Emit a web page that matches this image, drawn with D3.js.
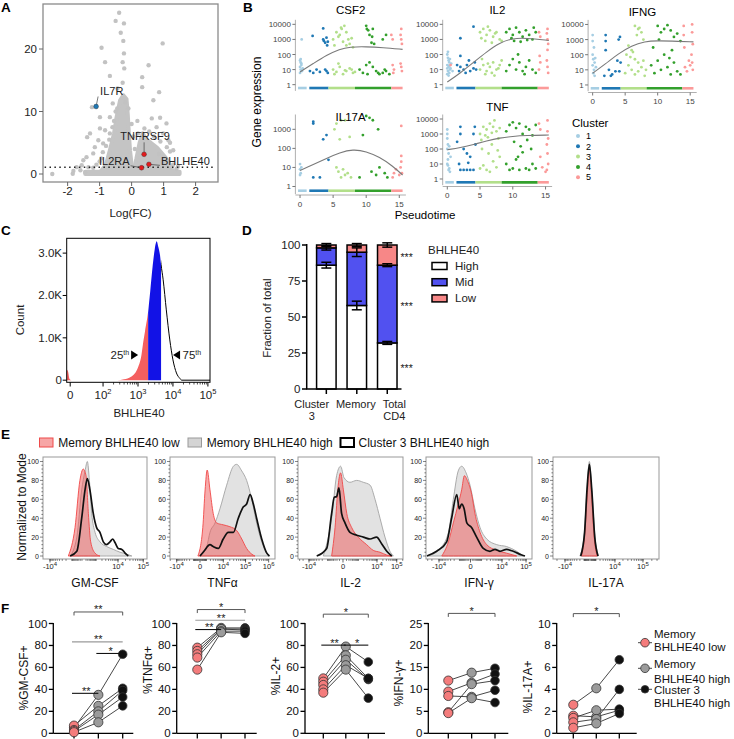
<!DOCTYPE html>
<html><head><meta charset="utf-8">
<script src="https://cdn.jsdelivr.net/npm/d3@7"></script>
<style>
body{margin:0;background:#fff}
text{font-family:"Liberation Sans",Arial,Helvetica,sans-serif}
</style></head>
<body><svg id="fig" width="734" height="739" xmlns="http://www.w3.org/2000/svg"></svg>
<script>
// ======================= DATA =======================
// ---- A: volcano (logFC, -log10 p) ----
const volcanoGray = [[-0.39,25.8],[-0.5,24.5],[-0.24,24.1],[-0.34,22.6],[-0.26,21.3],[0.97,20.9],[-0.94,20.2],[-0.24,19.3],[-0.83,17.9],[-0.28,17.9],[0.53,17.4],[-0.23,16.9],[-0.68,15.7],[0.33,15.5],[-0.28,14.6],[0.33,13.9],[0.86,13.1],[-0.44,13.7],[0.68,11.8],[-1.24,10.7],[-0.59,11.3],[-0.99,9.1],[-0.68,9.1],[0.89,9.0],[0.18,8.5],[0.63,8.9],[1.09,8.1],[-1.30,6.5],[-1.39,5.9],[-0.99,7.3],[-0.83,7.0],[-0.68,6.5],[-1.04,5.4],[-1.15,4.3],[-0.89,4.9],[-1.56,1.4],[-1.82,0.5],[-1.84,0.05],[-2.48,0.0],[1.15,5.4],[1.2,5.0],[0.99,6.5],[0.78,7.5],[1.3,3.8],[-1.41,2.7],[-1.2,3.3],[-1.51,2.2],[-1.35,1.1],[-1.72,1.1],[-0.9,3.5],[-0.95,2.5],[-0.8,4.5],[-0.7,5.5],[-0.6,7.5],[-0.55,8.5],[-0.5,10],[-0.45,10.5],[-0.2,11.5],[-0.1,10.5],[0.1,4],[0.05,6],[0.0,8],[0.2,6.5],[0.4,7.3],[1.1,4.3],[1.2,3.6],[0.9,5.2],[0.7,6],[0.55,6.8],[-1.1,1.5],[-1.2,1.0],[-1.0,2.0],[1.3,1.5],[1.4,0.8],[1.45,1.2],[-1.6,0.6],[-1.45,0.3],[1.05,2.6],[0.85,3.2]];
const volcanoCoreLeft = [[-1.0,0.2],[-0.8,1.5],[-0.68,3.8],[-0.55,6.5],[-0.47,9.1],[-0.36,11.8],[-0.26,12.6],[-0.16,12.0],[-0.12,9.5],[-0.08,6],[-0.05,3.8],[0.0,1.5],[0.1,0.3]];
const volcanoCoreRight = [[0.05,0.3],[0.15,2.5],[0.25,5],[0.35,6.5],[0.45,5.5],[0.6,5.0],[0.8,4.2],[1.0,3.0],[1.15,2.0],[1.25,0.8],[1.35,0.2]];
const volcanoBand = [[-1.45,0],[-1.45,0.35],[1.5,0.35],[1.5,0]];
const volcanoLabeled = [
  {gene:'IL7R', fc:-1.11, p:10.8, group:'down'},
  {gene:'TNFRSF9', fc:0.39, p:3.15, group:'up'},
  {gene:'IL2RA', fc:0.31, p:1.0, group:'up'},
  {gene:'BHLHE40', fc:0.54, p:1.55, group:'up'}
];
const pThreshold = 1.1;
const volcanoXTicks = [-2,-1,0,1,2];
const volcanoYTicks = [0,10,20];

// ---- B: pseudotime expression [pseudotime, expression, cluster] ----
const clusterNames = ['1','2','3','4','5'];
const zeroLevel = 0.6;
const clusterZeroRanges = [[-0.3,1.0],[1.4,4.3],[4.3,8.3],[8.3,13.8],[13.8,15.5]];
const csf2Pts = [[0,40,1],[0.1,30,1],[0.2,20,1],[0,15,1],[0.1,10,1],[0.3,8,1],[0,6,1],[0.2,25,1],[0.1,50,1],[0.25,1000,1],[0.4,12,1],
[1.9,1700,2],[3.5,5400,2],[3.5,1000,2],[4,1300,2],[3.8,600,2],[4.2,700,2],[4.1,400,2],[3.6,800,2],[1.5,8,2],[2,6,2],[3,7,2],[4,8,2],[2.5,10,2],[3.8,10,2],[4.2,6,2],
[5.5,3000,3],[6,2000,3],[6.3,5000,3],[6.7,8000,3],[7,3000,3],[7.3,1000,3],[5.8,1500,3],[6.5,700,3],[7.5,500,3],[5.2,400,3],[7.8,1200,3],[6.2,6000,3],[7,400,3],[8,300,3],[5,1000,3],
[5,10,3],[5.5,7,3],[6,15,3],[6.5,5,3],[7,8,3],[7.5,12,3],[8,6,3],[5.8,25,3],[6.8,9,3],[7.8,10,3],[5.2,5,3],[8.3,7,3],
[10,8000,4],[10.1,5000,4],[10.3,4000,4],[11,5000,4],[10.5,2000,4],[10.8,600,4],[11.2,500,4],[10.9,1500,4],[12.5,1000,4],[13,2000,4],
[9,10,4],[9.5,6,4],[10,20,4],[10.5,30,4],[11,15,4],[11.5,8,4],[12,5,4],[12.5,6,4],[13,8,4],[13.5,5,4],[10.2,5,4],[11.8,6,4],[12.8,10,4],
[13.8,2000,5],[14,1000,5],[15.3,5000,5],[15.3,1000,5],[15.4,500,5],[15.2,2000,5],[14,20,5],[14.2,10,5],[15.3,15,5],[15.4,8,5],[15.2,25,5],[14.1,6,5]];
const csf2Fit = [[0,7],[2,25],[4,90],[6,230],[7.5,320],[10,330],[12.5,290],[15.5,220]];
const il2Pts = [[0,100,1],[0.1,60,1],[0.2,40,1],[0.3,30,1],[0,20,1],[0.2,15,1],[0.4,10,1],[0.1,8,1],[0.3,6,1],[0,5,1],[0.2,4,1],[0.5,12,1],[0.6,25,1],[0.8,8,1],[0.1,150,1],[0.4,50,1],[0,12,1],[0.3,18,1],[0.5,20,5],
[2.0,1200,2],[4.0,7000,2],[2.0,80,2],[1.5,20,2],[2,15,2],[2.5,10,2],[3,20,2],[3.5,8,2],[4,12,2],[4.2,30,2],[2.8,6,2],[1.8,8,2],[3.3,40,2],[4.4,10,2],
[5,3000,3],[5.5,5000,3],[6,2000,3],[6.5,4000,3],[7,1500,3],[7.5,3000,3],[8,1000,3],[5.2,1200,3],[6.2,7000,3],[6.8,600,3],[7.3,2500,3],[8.3,800,3],[5.8,800,3],
[5,10,3],[5.5,20,3],[6,8,3],[6.5,15,3],[7,30,3],[7.5,10,3],[8,20,3],[5.3,50,3],[6.8,6,3],[7.8,12,3],[8.3,40,3],[6.2,25,3],[5.8,5,3],[7.2,4,3],
[9,3000,4],[9.5,5000,4],[10,2000,4],[10.5,6000,4],[11,3000,4],[11.5,1500,4],[12,4000,4],[12.5,2000,4],[13,1000,4],[13.5,3000,4],[10.2,800,4],[11.2,700,4],[12.2,900,4],[9.8,1200,4],[13.2,6000,4],
[9,8,4],[9.5,20,4],[10,50,4],[10.5,10,4],[11,30,4],[11.5,8,4],[12,15,4],[12.5,40,4],[13,10,4],[13.5,6,4],[10.8,100,4],[11.8,5,4],
[14,3000,5],[14.2,1500,5],[15.3,5000,5],[15.3,1000,5],[15.4,500,5],[15.2,2500,5],[14,10,5],[14.2,30,5],[15.3,15,5],[15.4,6,5],[15.2,40,5],[14.1,80,5],[15.3,200,5]];
const il2Fit = [[0,1.5],[2,6],[4,30],[6,150],[8,600],[10,1200],[12,1250],[15.5,850]];
const ifngPts = [[0,2000,1],[0,800,1],[0.2,300,1],[0,100,1],[0.1,50,1],[0.3,30,1],[0,20,1],[0.2,10,1],[0.1,6,1],[0.3,4,1],[0.5,15,1],[0.4,60,1],
[2,2000,2],[2,800,2],[2,200,2],[2.5,10,2],[3,5,2],[3.5,8,2],[4,1000,2],[4.2,1500,2],[4.3,30,2],[4.1,8,2],[1.8,4,2],[2.8,4,2],[3.8,40,2],
[6.5,8000,3],[7,5000,3],[7.5,3000,3],[7.2,6000,3],[6.8,2000,3],[7.8,1000,3],[5.5,400,3],[6,200,3],[5.2,100,3],[6.5,50,3],[7,30,3],[5.5,20,3],[6,10,3],[6.5,5,3],[7,8,3],[7.5,15,3],[8,4,3],[5,6,3],[5.8,70,3],[6.2,150,3],[7.8,40,3],[8.2,10,3],
[10,8000,4],[10.5,3000,4],[11,5000,4],[11.5,9000,4],[12,4000,4],[12.5,1500,4],[13,2500,4],[13.5,800,4],[10.2,1000,4],[9,20,4],[9.5,6,4],[10,40,4],[10.5,10,4],[11,100,4],[11.5,15,4],[12,5,4],[12.5,30,4],[13,8,4],[13.5,5,4],[9.3,300,4],[12.2,200,4],[11.8,60,4],
[14,8000,5],[14,2000,5],[14.1,300,5],[15.3,10000,5],[15.3,3000,5],[15.4,500,5],[15.2,100,5],[15.3,30,5],[15.4,10,5],[14.2,15,5],[14.5,8,5],[15,20,5],[14.8,40,5]];
const ifngFit = [[0,6],[2,25],[4,120],[6,400],[8,750],[10,850],[12,800],[15.5,700]];
const il17aPts = [[0,15,1],[0,8,1],[0.1,5,1],[0.2,10,1],[0,4,1],
[2,2500,2],[2,2000,2],[3.5,300,2],[4,500,2],[4.3,25,2],[3,3,2],[2,3,2],
[5.5,2000,3],[6.2,3000,3],[6.8,3000,3],[5.2,1000,3],[6,300,3],[7.5,400,3],[5.8,6,3],[6.2,3,3],[6.8,4,3],[7.2,5,3],[7.7,3,3],[5.5,10,3],[6.5,8,3],
[10,5000,4],[10.5,4000,4],[11,3000,4],[11.8,1000,4],[9.5,500,4],[9,3,4],[12,10,4],[12.8,5,4],[13.2,3,4],[10.8,6,4],[11.5,4,4],
[15.3,1500,5],[15.3,40,5],[15.3,20,5],[15.2,10,5],[15.4,5,5],[14.5,8,5],[14.2,5,5],[14,3,5],[15,4,5]];
const il17aFit = [[0,7],[2,14],[4,30],[6,60],[8,90],[10,70],[12,35],[14,12],[15.5,4]];
const tnfPts = [[0,1000,1],[0,500,1],[0.1,200,1],[0,100,1],[0.2,50,1],[0.1,20,1],[0,10,1],[0.3,5,1],[0.2,4,1],[0.4,3,1],[0.5,30,1],[0,2000,1],[0.3,150,1],[0.1,8,1],
[2,3000,2],[2,1000,2],[1.5,300,2],[2.5,100,2],[3,50,2],[3.5,30,2],[4,1000,2],[4.2,3000,2],[4.3,200,2],[2,4,2],[2.5,4,2],[3,4,2],[3.5,4,2],[4,4,2],[1.8,10,2],[3.2,12,2],
[5,1000,3],[5.5,3000,3],[6,2000,3],[6.5,5000,3],[7,3000,3],[7.5,1500,3],[8,2500,3],[5.2,400,3],[5.8,800,3],[6.2,600,3],[6.8,1200,3],[7.2,8000,3],[7.8,500,3],[5,5,3],[5.5,8,3],[6,4,3],[6.5,3,3],[7,15,3],[7.5,6,3],[8,30,3],[6.3,50,3],[5.3,100,3],[6.8,200,3],[7.7,80,3],
[9,1500,4],[9.5,4000,4],[10,6000,4],[10.5,2500,4],[11,5000,4],[11.5,1000,4],[12,3000,4],[12.5,2000,4],[13,800,4],[13.5,4000,4],[10.2,300,4],[11.2,150,4],[12.2,400,4],[9,10,4],[9.5,4,4],[10,5,4],[10.5,20,4],[11,4,4],[11.5,60,4],[12,5,4],[12.5,4,4],[13,10,4],[13.5,5,4],[10.8,30,4],[12.8,100,4],
[14,5000,5],[14.2,2000,5],[15.3,8000,5],[15.3,1500,5],[15.4,500,5],[15.2,200,5],[15.3,50,5],[15.4,10,5],[15.2,4,5],[14.2,30,5],[14.5,6,5],[15,3,5]];
const tnfFit = [[0,90],[2,120],[4,200],[6,350],[8,550],[10,700],[12,800],[15.5,850]];

// ---- C: BHLHE40 histogram [log10 intensity, count (K)] ----
const bhlhe40Hist = [[0.96,0.25],[1.0,0.2],[1.04,0.03],[1.1,0],[2.4,0],[2.6,0.02],[2.8,0.08],[2.9,0.15],[3.0,0.3],[3.1,0.6],[3.15,0.9],[3.2,1.15],[3.29,1.62],[3.35,2.1],[3.42,2.7],[3.48,3.1],[3.535,3.28],[3.58,3.15],[3.63,2.95],[3.66,2.73],[3.72,2.37],[3.81,1.66],[3.91,0.95],[4.0,0.48],[4.1,0.17],[4.2,0.04],[4.25,0],[5.06,0]];
const pct25 = 3.29, pct75 = 3.66;
const cXTicks = [0,100,1000,10000,100000];
const cYTicks = [0,1,2,3];
const cYLabels = ['0','1.0K','2.0K','3.0K'];

// ---- D: fraction of total ----
const dGroups = ['Cluster 3','Memory','Total CD4'];
const dGroupLines = [['Cluster','3'],['Memory'],['Total','CD4']];
const dHigh = [86,58,32], dMid = [12,37,54], dLow = [2,5,14];
const dHighErr = [2,3,1], dMidErr = [1.5,3,1], dLowErr = [1,1,1.5];
const dYTicks = [0,25,50,75,100];
const dSig = ['***','***','***'];

// ---- E: flow histograms [transformed intensity, % of mode] ----
const gmcsfLow = [[-0.61,0],[-0.35,30],[-0.16,80],[-0.03,92],[0.08,85],[0.17,45],[0.26,15],[0.43,3],[0.62,0]];
const gmcsfHigh = [[-0.54,0],[-0.28,20],[-0.09,70],[0.04,90],[0.13,100],[0.21,80],[0.30,45],[0.43,25],[0.62,15],[0.88,10],[1.14,7],[1.40,4],[1.66,2],[1.86,0]];
const gmcsfC3 = [[-0.54,0],[-0.28,5],[-0.09,40],[0.04,70],[0.13,82],[0.23,70],[0.36,45],[0.49,30],[0.62,25],[0.75,15],[0.88,12],[1.01,15],[1.12,18],[1.21,14],[1.33,8],[1.47,7],[1.60,3],[1.72,0]];
const tnfLow = [[-0.09,0],[0.12,30],[0.22,70],[0.31,91],[0.43,70],[0.57,45],[0.72,35],[1.00,33],[1.29,31],[1.58,27],[1.80,18],[2.01,8],[2.23,2],[2.37,0]];
const tnfHigh = [[0,0],[0.29,10],[0.43,25],[0.65,35],[0.86,50],[1.15,75],[1.44,95],[1.58,97],[1.80,90],[2.01,80],[2.23,60],[2.44,35],[2.66,15],[2.88,3],[3.02,0]];
const tnfC3 = [[0,0],[0.17,5],[0.43,12],[0.57,10],[0.79,8],[1.00,18],[1.22,25],[1.44,25],[1.65,40],[1.87,52],[2.01,55],[2.16,65],[2.30,55],[2.44,40],[2.66,18],[2.88,3],[2.99,0]];
const il2Low = [[-0.57,0],[-0.40,30],[-0.24,75],[-0.12,88],[0.02,70],[0.19,45],[0.44,30],[0.77,20],[1.19,12],[1.52,6],[1.86,4],[2.20,1],[2.45,0]];
const il2High = [[-0.99,0],[-0.57,40],[-0.32,85],[-0.12,95],[0.05,83],[0.35,78],[0.69,80],[1.02,78],[1.36,75],[1.61,60],[1.86,40],[2.11,20],[2.36,5],[2.53,0]];
const il2C3 = [[-1.32,0],[-0.82,8],[-0.57,45],[-0.44,62],[-0.32,63],[-0.20,72],[-0.07,45],[0.10,35],[0.35,25],[0.69,22],[1.02,20],[1.36,18],[1.69,20],[1.94,13],[2.20,5],[2.45,0]];
const ifngLow = [[-1.17,0],[-0.90,15],[-0.70,35],[-0.50,55],[-0.36,70],[-0.25,85],[-0.13,80],[0.05,65],[0.18,45],[0.39,25],[0.66,12],[1.07,6],[1.47,3],[1.88,0]];
const ifngHigh = [[-1.72,0],[-1.24,8],[-0.90,25],[-0.70,60],[-0.50,90],[-0.36,95],[-0.18,88],[-0.02,75],[0.18,50],[0.39,30],[0.66,18],[1.07,12],[1.47,10],[1.88,5],[2.15,0]];
const ifngC3 = [[-1.78,0],[-1.38,5],[-0.97,15],[-0.77,40],[-0.56,65],[-0.46,50],[-0.36,55],[-0.26,50],[-0.15,35],[0.05,30],[0.25,20],[0.52,8],[0.79,5],[1.00,7],[1.20,5],[1.47,7],[1.74,5],[2.09,1],[2.22,0]];
const il17aLow = [[-0.28,0],[-0.17,25],[-0.09,65],[-0.02,92],[0.06,60],[0.14,20],[0.24,0]];
const il17aHigh = [[-0.34,0],[-0.20,20],[-0.11,65],[-0.02,100],[0.07,65],[0.17,20],[0.28,0]];
const il17aC3 = [[-0.31,0],[-0.18,25],[-0.10,70],[-0.02,97],[0.06,70],[0.16,20],[0.27,0]];
const eYTicks = [0,20,40,60,80,100];
const eLegend = ['Memory BHLHE40 low','Memory BHLHE40 high','Cluster 3 BHLHE40 high'];

// ---- F: % positive per donor [Memory low, Memory high, Cluster 3 high] ----
const fGroups = ['Memory BHLHE40 low','Memory BHLHE40 high','Cluster 3 BHLHE40 high'];
const fGmcsf = [[5,35,72],[7,25,41],[3,20,39],[2,17,33],[1,10,25]];
const fTnf = [[78,96,96],[75,95,95],[72,95,94],[69,93,93],[58,92,91]];
const fIl2 = [[50,79,65],[47,71,50],[44,67,49],[40,62,50],[37,58,32]];
const fIfng = [[12,13.8,14.8],[9.5,11.5,13.5],[8.5,8.3,9.8],[4.8,11.2,12],[4.6,8.0,7]];
const fIl17a = [[2.6,4.1,6.7],[1.6,1.5,2.1],[1.4,2.1,2.2],[1.0,1.3,4.0],[0.5,0.9,1.8]];
// significance: [from group, to group, level (y units), label, kind]
const fGmcsfSig = [[0,2,110.5,'**','bracket'],[0,2,83.3,'**','gray'],[1,2,72.7,'*','black'],[0,1,36.4,'**','black']];
const fTnfSig = [[0,2,112.7,'*','bracket'],[0,2,103,'**','gray'],[0,1,94.5,'**','black']];
const fIl2Sig = [[0,2,108.5,'*','bracket'],[0,1,80.3,'**','black'],[1,2,80.3,'*','black']];
const fIfngSig = [[0,2,27.3,'*','bracket']];
const fIl17aSig = [[0,2,10.9,'*','bracket']];

// ======================= DRAW =======================
const svg = d3.select('#fig');
function txt(g,x,y,s,o={}){
  const t=g.append('text').attr('x',x).attr('y',y).text(s)
    .attr('font-size',o.size||11).attr('fill',o.fill||'#000')
    .attr('text-anchor',o.anchor||'start');
  if(o.weight) t.attr('font-weight',o.weight);
  if(o.rotate) t.attr('transform',`rotate(-90,${x},${y})`);
  return t;
}
function supLabel(sel, base, sup, supSize, dy){
  sel.append('tspan').text(base);
  sel.append('tspan').text(sup).attr('font-size',supSize).attr('dy',-dy);
}
[['A',1,12],['B',243,12],['C',1,235],['D',242,235],['E',1,439],['F',1,613]].forEach(d=>txt(svg,d[1],d[2],d[0],{size:13.5,weight:'bold'}));

// ---------- A ----------
(function(){
  const g=svg.append('g');
  const x=d3.scaleLinear().domain([-2.77,2.7]).range([43,218]);
  const y=d3.scaleLinear().domain([-1.28,27.2]).range([182,4]);
  const ln=d3.line().x(d=>x(d[0])).y(d=>y(d[1]));
  [volcanoCoreLeft,volcanoCoreRight,volcanoBand].forEach(p=>g.append('path').attr('d',ln(p)+'Z')
    .attr('fill','#c4c4c4').attr('stroke','#c4c4c4').attr('stroke-width',4).attr('stroke-linejoin','round'));
  g.selectAll('circle.v').data(volcanoGray).join('circle').attr('class','v')
    .attr('cx',d=>x(d[0])).attr('cy',d=>y(d[1])).attr('r',2.2).attr('fill','#c2c2c2');
  g.append('line').attr('x1',x(-2.72)).attr('x2',x(2.62)).attr('y1',y(pThreshold)).attr('y2',y(pThreshold))
    .attr('stroke','#222').attr('stroke-width',1.5).attr('stroke-dasharray','1.5,3.4');
  const lay={IL7R:{dx:4,dy:-11.5,a:'start',lx:2,ly:-10},TNFRSF9:{dx:1,dy:-14,a:'middle',lx:0,ly:-12},
             IL2RA:{dx:-12,dy:-3,a:'end',lx:-11,ly:-2},BHLHE40:{dx:12,dy:0.5,a:'start',lx:11,ly:1}};
  volcanoLabeled.forEach(d=>{
    const px=x(d.fc),py=y(d.p),L=lay[d.gene];
    g.append('line').attr('x1',px+L.lx).attr('y1',py+L.ly).attr('x2',px).attr('y2',py).attr('stroke','#444').attr('stroke-width',0.7);
    g.append('circle').attr('cx',px).attr('cy',py).attr('r',2.4)
      .attr('fill',d.group==='down'?'#1f78b4':'#e31a1c').attr('stroke','#333').attr('stroke-width',0.4);
    txt(g,px+L.dx,py+L.dy,d.gene,{size:11,anchor:L.a,fill:'#222'});
  });
  g.append('rect').attr('x',43).attr('y',4).attr('width',175).attr('height',178).attr('fill','none').attr('stroke','#8a8a8a').attr('stroke-width',1.3);
  volcanoYTicks.forEach(v=>{g.append('line').attr('x1',39).attr('x2',43).attr('y1',y(v)).attr('y2',y(v)).attr('stroke','#666');
    txt(g,37,y(v)+4,v,{size:11.5,anchor:'end',fill:'#222'});});
  volcanoXTicks.forEach(v=>{g.append('line').attr('x1',x(v)).attr('x2',x(v)).attr('y1',182).attr('y2',186).attr('stroke','#666');
    txt(g,x(v),195,v,{size:11.5,anchor:'middle',fill:'#222'});});
  txt(g,130.5,217,'Log(FC)',{size:11.5,anchor:'middle',fill:'#222'});
})();

// ---------- B ----------
(function(){
  const clusterColors=['#a6cee3','#1f78b4','#b2df8a','#33a02c','#fb9a99'];
  const bLayout=[
    {gene:'CSF2',pts:csf2Pts,fit:csf2Fit,xr:[295.4,405.9],yd:[0.45,20000],yr:[89.9,19.8],yt:[1,10,100,1000,10000],xaxis:null,titleY:14},
    {gene:'IL2',pts:il2Pts,fit:il2Fit,xr:[442.7,552.1],yd:[0.45,20000],yr:[89.9,19.8],yt:[1,10,100,1000,10000],xaxis:null,titleY:14},
    {gene:'IFNG',pts:ifngPts,fit:ifngFit,xr:[588.1,696.7],yd:[0.45,20000],yr:[90.2,19.9],yt:[1,10,100,1000,10000],xaxis:92.5,titleY:15.5},
    {gene:'IL17A',pts:il17aPts,fit:il17aFit,xr:[295.4,405.9],yd:[0.45,6000],yr:[193.1,114.5],yt:[1,10,100,1000],xaxis:195,titleY:121},
    {gene:'TNF',pts:tnfPts,fit:tnfFit,xr:[442.7,552.1],yd:[0.45,20000],yr:[184.2,114.5],yt:[1,10,100,1000,10000],xaxis:186.5,titleY:110.5}
  ];
  bLayout.forEach(p=>{
    const g=svg.append('g');
    const x=d3.scaleLinear().domain([-0.7,16]).range(p.xr);
    const y=d3.scaleLog().domain(p.yd).range(p.yr);
    g.selectAll('circle').data(p.pts).join('circle').attr('cx',d=>x(d[0])).attr('cy',d=>y(d[1])).attr('r',1.4)
      .attr('fill',d=>clusterColors[d[2]-1]);
    clusterZeroRanges.forEach((r,i)=>g.append('line').attr('x1',x(r[0])).attr('x2',x(r[1]))
      .attr('y1',y(zeroLevel)).attr('y2',y(zeroLevel)).attr('stroke',clusterColors[i]).attr('stroke-width',2.6));
    g.append('path').attr('d',d3.line().x(d=>x(d[0])).y(d=>y(d[1])).curve(d3.curveBasis)(p.fit))
      .attr('fill','none').attr('stroke','#7a7a7a').attr('stroke-width',1.1);
    const ax=p.xr[0];
    g.append('line').attr('x1',ax).attr('x2',ax).attr('y1',p.yr[0]+1).attr('y2',p.yr[1]).attr('stroke','#9a9a9a').attr('stroke-width',0.8);
    p.yt.forEach(v=>{g.append('line').attr('x1',ax-3).attr('x2',ax).attr('y1',y(v)).attr('y2',y(v)).attr('stroke','#777');
      txt(g,ax-4.5,y(v)+3,v,{size:8,anchor:'end',fill:'#444'});});
    if(p.xaxis){
      g.append('line').attr('x1',ax).attr('x2',p.xr[1]).attr('y1',p.xaxis).attr('y2',p.xaxis).attr('stroke','#9a9a9a').attr('stroke-width',0.8);
      [0,5,10,15].forEach(v=>{g.append('line').attr('x1',x(v)).attr('x2',x(v)).attr('y1',p.xaxis).attr('y2',p.xaxis+3).attr('stroke','#777');
        txt(g,x(v),p.xaxis+11.5,v,{size:8,anchor:'middle',fill:'#444'});});
    }
    txt(g,(p.xr[0]+p.xr[1])/2,p.titleY,p.gene,{size:11.5,anchor:'middle'});
  });
  txt(svg,261,102,'Gene expression',{size:12,anchor:'middle',rotate:true});
  txt(svg,425,219,'Pseudotime',{size:11.5,anchor:'middle'});
  txt(svg,572,127,'Cluster',{size:11.5});
  clusterNames.forEach((c,i)=>{
    svg.append('circle').attr('cx',578).attr('cy',136+i*10.3).attr('r',2).attr('fill',clusterColors[i]);
    txt(svg,586,139.2+i*10.3,c,{size:9});
  });
})();

// ---------- C ----------
(function(){
  const g=svg.append('g');
  const x=d3.scaleLinear().domain([0.96,5.06]).range([66.7,210]);
  const y=d3.scaleLinear().domain([-0.05,3.35]).range([382.3,238.3]);
  const uOf=v=>v<100?1.06+v/100*0.94:Math.log10(v);
  const defs=svg.append('defs');
  const clip=(id,a,b)=>defs.append('clipPath').attr('id',id).append('rect').attr('x',a).attr('y',230).attr('width',b-a).attr('height',160);
  clip('cRed',x(0.96),x(pct25)); clip('cBlue',x(pct25),x(pct75)); clip('cOut',x(pct75),x(5.06));
  const area=d3.area().x(d=>x(d[0])).y0(y(0)).y1(d=>y(d[1])).curve(d3.curveMonotoneX);
  const line=d3.line().x(d=>x(d[0])).y(d=>y(d[1])).curve(d3.curveMonotoneX);
  g.append('path').attr('d',area(bhlhe40Hist)).attr('fill','#f45f5f').attr('clip-path','url(#cRed)');
  g.append('path').attr('d',area(bhlhe40Hist)).attr('fill','#1212e6').attr('clip-path','url(#cBlue)');
  g.append('path').attr('d',line(bhlhe40Hist)).attr('fill','none').attr('stroke','#000').attr('stroke-width',1).attr('clip-path','url(#cOut)');
  g.append('rect').attr('x',66.7).attr('y',238.3).attr('width',143.3).attr('height',144).attr('fill','none').attr('stroke','#000').attr('stroke-width',1);
  cYTicks.forEach((v,i)=>{g.append('line').attr('x1',62.7).attr('x2',66.7).attr('y1',y(v)).attr('y2',y(v)).attr('stroke','#000');
    txt(g,62,y(v)+4,cYLabels[i],{size:11.5,anchor:'end',fill:'#222'});});
  cXTicks.forEach(v=>{const px=x(uOf(v));
    g.append('line').attr('x1',px).attr('x2',px).attr('y1',382.3).attr('y2',386.5).attr('stroke','#000');
    const t=txt(g,px,399,'',{size:11.5,anchor:'middle',fill:'#222'});
    if(v===0) t.text('0'); else supLabel(t,'10',String(Math.log10(v)),7.5,5);
  });
  [2,3,4].forEach(k=>d3.range(2,10).forEach(m=>{const px=x(Math.log10(m*Math.pow(10,k)));
    g.append('line').attr('x1',px).attr('x2',px).attr('y1',382.3).attr('y2',384.5).attr('stroke','#000').attr('stroke-width',0.7);}));
  txt(g,139,417,'BHLHE40',{size:11.5,anchor:'middle',fill:'#222'});
  txt(g,24,320,'Count',{size:11.5,anchor:'middle',rotate:true,fill:'#222'});
  const py=355;
  const t1=txt(g,x(pct25)-19,py+4,'',{size:11.5,anchor:'end',fill:'#222'}); supLabel(t1,'25','th',7,4);
  g.append('path').attr('d',`M${x(pct25)-10},${py} l-7,-4.5 v9 Z`).attr('fill','#000');
  g.append('path').attr('d',`M${x(pct75)+12},${py} l7,-4.5 v9 Z`).attr('fill','#000');
  const t2=txt(g,x(pct75)+21.5,py+4,'',{size:11.5,fill:'#222'}); supLabel(t2,'75','th',7,4);
})();

// ---------- D ----------
(function(){
  const g=svg.append('g');
  const x=d3.scaleBand().domain(dGroups).range([311.1,402.5]).paddingInner(0.36).paddingOuter(0.18);
  const y=d3.scaleLinear().domain([0,100]).range([389,245]);
  const segs=[{v:dHigh,e:dHighErr,c:'#ffffff'},{v:dMid,e:dMidErr,c:'#5151f0'},{v:dLow,e:dLowErr,c:'#f78787'}];
  dGroups.forEach((grp,i)=>{
    let base=0;
    segs.forEach(s=>{
      const top=base+s.v[i];
      g.append('rect').attr('x',x(grp)).attr('width',x.bandwidth()).attr('y',y(top)).attr('height',y(base)-y(top))
        .attr('fill',s.c).attr('stroke','#000').attr('stroke-width',1.5);
      base=top;
    });
  });
  dGroups.forEach((grp,i)=>{
    let base=0; const cx=x(grp)+x.bandwidth()/2;
    segs.forEach(s=>{
      const top=base+s.v[i];
      g.append('line').attr('x1',cx).attr('x2',cx).attr('y1',y(top-s.e[i])).attr('y2',y(top+s.e[i])).attr('stroke','#000').attr('stroke-width',1.5);
      [top-s.e[i],top+s.e[i]].forEach(v=>g.append('line').attr('x1',cx-5).attr('x2',cx+5).attr('y1',y(v)).attr('y2',y(v)).attr('stroke','#000').attr('stroke-width',1.5));
      base=top;
    });
  });
  const last=dGroups.length-1; let b=0;
  segs.forEach((s,k)=>{const mid=b+s.v[last]/2; b+=s.v[last];
    txt(g,400.5,y(mid)+6,dSig[k],{size:10.5,fill:'#222'});});
  g.append('line').attr('x1',306.7).attr('x2',306.7).attr('y1',389).attr('y2',244).attr('stroke','#000').attr('stroke-width',1.5);
  g.append('line').attr('x1',306).attr('x2',401.5).attr('y1',389).attr('y2',389).attr('stroke','#000').attr('stroke-width',1.5);
  dYTicks.forEach(v=>{g.append('line').attr('x1',302).attr('x2',306.7).attr('y1',y(v)).attr('y2',y(v)).attr('stroke','#000').attr('stroke-width',1.5);
    txt(g,300.5,y(v)+4,v,{size:11.5,anchor:'end',fill:'#222'});});
  const labelShift=[-14.6,-1,7];
  dGroups.forEach((grp,i)=>{const cx=x(grp)+x.bandwidth()/2;
    g.append('line').attr('x1',cx).attr('x2',cx).attr('y1',389).attr('y2',394).attr('stroke','#000').attr('stroke-width',1.5);
    dGroupLines[i].forEach((s,j)=>txt(g,cx+labelShift[i],408+j*11.5,s,{size:11,anchor:'middle',fill:'#222'}));});
  txt(g,271,318,'Fraction of total',{size:11.5,anchor:'middle',rotate:true,fill:'#222'});
  txt(g,428,254,'BHLHE40',{size:11.5,fill:'#222'});
  ['High','Mid','Low'].forEach((s,k)=>{const cy=266+k*16.2;
    g.append('rect').attr('x',432).attr('y',cy-3.5).attr('width',15).attr('height',7).attr('fill',segs[k].c).attr('stroke','#000').attr('stroke-width',1.5);
    txt(g,455,cy+4,s,{size:11.5,fill:'#222'});});
})();

// ---------- E ----------
(function(){
  const y=d3.scaleLinear().domain([0,100]).range([556,461.5]);
  const ePanels=[
    {name:'GM-CSF',c:500,T:[-1.595,2.45],box:[43,147],ticks:[-1e4,1e4,1e5],low:gmcsfLow,high:gmcsfHigh,c3:gmcsfC3},
    {name:'TNFα',c:1100,T:[-1.293,3.233],box:[170,275],ticks:[-1e4,0,1e4,1e5,1e6],low:tnfLow,high:tnfHigh,c3:tnfC3},
    {name:'IL-2',c:200,T:[-2.26,3.015],box:[298,403],ticks:[-1e4,0,1e4,1e5],low:il2Low,high:il2High,c3:il2C3},
    {name:'IFN-γ',c:550,T:[-1.813,2.505],box:[426,532],ticks:[-1e4,0,1e4,1e5],low:ifngLow,high:ifngHigh,c3:ifngC3},
    {name:'IL-17A',c:1700,T:[-1.24,2.315],box:[553,659],ticks:[-1e4,1e4,1e5],low:il17aLow,high:il17aHigh,c3:il17aC3}
  ];
  ePanels.forEach(p=>{
    const g=svg.append('g');
    const x=d3.scaleLinear().domain(p.T).range(p.box);
    const tf=v=>Math.sign(v)*Math.log10(1+Math.abs(v)/p.c);
    const area=d3.area().x(d=>x(d[0])).y0(y(0)).y1(d=>y(d[1])).curve(d3.curveMonotoneX);
    const line=d3.line().x(d=>x(d[0])).y(d=>y(d[1])).curve(d3.curveMonotoneX);
    g.append('path').attr('d',area(p.high)).attr('fill','#e2e2e2').attr('stroke','#a3a3a3').attr('stroke-width',0.9);
    g.append('path').attr('d',area(p.low)).attr('fill','rgba(238,88,88,0.5)').attr('stroke','#f04848').attr('stroke-width',0.9);
    g.append('path').attr('d',line(p.c3)).attr('fill','none').attr('stroke','#111').attr('stroke-width',1.7);
    g.append('rect').attr('x',p.box[0]).attr('y',457).attr('width',p.box[1]-p.box[0]).attr('height',102).attr('fill','none').attr('stroke','#999').attr('stroke-width',1);
    d3.range(0,101,4).forEach(v=>{const major=v%20===0;
      g.append('line').attr('x1',p.box[0]-(major?3:1.6)).attr('x2',p.box[0]).attr('y1',y(v)).attr('y2',y(v)).attr('stroke','#333').attr('stroke-width',0.6);});
    eYTicks.forEach(v=>txt(g,p.box[0]-4,y(v)+2.5,v,{size:7,anchor:'end',fill:'#222'}));
    const minors=[];
    [2,3,4,5].forEach(k=>d3.range(1,10).forEach(m=>{minors.push(m*Math.pow(10,k)); if(k<=4) minors.push(-m*Math.pow(10,k));}));
    minors.forEach(v=>{const t=tf(v); if(t>p.T[0]&&t<p.T[1]) g.append('line').attr('x1',x(t)).attr('x2',x(t)).attr('y1',559).attr('y2',561).attr('stroke','#222').attr('stroke-width',0.5);});
    p.ticks.forEach(v=>{const px=x(tf(v));
      g.append('line').attr('x1',px).attr('x2',px).attr('y1',559).attr('y2',562.5).attr('stroke','#222').attr('stroke-width',0.7);
      const t=txt(g,px,569,'',{size:7.5,anchor:'middle',fill:'#222'});
      if(v===0) t.text('0'); else supLabel(t,(v<0?'-':'')+'10',String(Math.round(Math.log10(Math.abs(v)))),6,3.5);
    });
    txt(g,(p.box[0]+p.box[1])/2,587,p.name,{size:12,anchor:'middle',fill:'#111'});
  });
  txt(svg,26,507,'Normalized to Mode',{size:12,anchor:'middle',rotate:true,fill:'#111'});
  const lg=[{x:39.5,fill:'#f7a6a6',stroke:'#ee4a4a',sw:1},{x:188,fill:'#d4d4d4',stroke:'#999',sw:1},{x:340.5,fill:'#fff',stroke:'#000',sw:2}];
  const tx=[58.3,206.7,358.5];
  eLegend.forEach((s,i)=>{
    svg.append('rect').attr('x',lg[i].x).attr('y',438).attr('width',13.5).attr('height',9).attr('fill',lg[i].fill).attr('stroke',lg[i].stroke).attr('stroke-width',lg[i].sw);
    txt(svg,tx[i],447,s,{size:12,fill:'#111'});
  });
})();

// ---------- F ----------
(function(){
  const colors=['#f47c7c','#9b9b9b','#111111'];
  const fPanels=[
    {label:'%GM-CSF+',data:fGmcsf,sig:fGmcsfSig,yMax:100,yt:[0,20,40,60,80,100],ax:53.3,gx:[74,122.7],ly:678},
    {label:'%TNFα+',data:fTnf,sig:fTnfSig,yMax:100,yt:[0,20,40,60,80,100],ax:176.7,gx:[197.3,245],ly:670},
    {label:'%IL-2+',data:fIl2,sig:fIl2Sig,yMax:100,yt:[0,20,40,60,80,100],ax:305,gx:[323.3,368.3],ly:676},
    {label:'%IFN-γ+',data:fIfng,sig:fIfngSig,yMax:25,yt:[0,5,10,15,20,25],ax:428.3,gx:[448.3,495],ly:683},
    {label:'%IL-17A+',data:fIl17a,sig:fIl17aSig,yMax:10,yt:[0,2,4,6,8,10],ax:556.7,gx:[573.3,619.3],ly:687}
  ];
  fPanels.forEach(p=>{
    const g=svg.append('g');
    const x=d3.scalePoint().domain([0,1,2]).range(p.gx);
    const y=d3.scaleLinear().domain([0,p.yMax]).range([733.3,623.5]);
    g.append('line').attr('x1',p.ax).attr('x2',p.ax).attr('y1',733.3).attr('y2',623).attr('stroke','#000').attr('stroke-width',1.3);
    g.append('line').attr('x1',p.ax).attr('x2',p.ax+80).attr('y1',733.3).attr('y2',733.3).attr('stroke','#000').attr('stroke-width',1.3);
    p.yt.forEach(v=>{g.append('line').attr('x1',p.ax-4.5).attr('x2',p.ax).attr('y1',y(v)).attr('y2',y(v)).attr('stroke','#000').attr('stroke-width',1.3);
      txt(g,p.ax-6,y(v)+4,v,{size:11.5,anchor:'end',fill:'#111'});});
    [0,1,2].forEach(i=>g.append('line').attr('x1',x(i)).attr('x2',x(i)).attr('y1',733.3).attr('y2',738.5).attr('stroke','#000').attr('stroke-width',1.3));
    txt(g,p.ax-25,p.ly,p.label,{size:12,anchor:'middle',rotate:true,fill:'#111'});
    p.data.forEach(d=>g.append('path').attr('d',d3.line().x((v,i)=>x(i)).y(v=>y(v))(d)).attr('fill','none').attr('stroke','#333').attr('stroke-width',0.9));
    p.data.forEach(d=>d.forEach((v,i)=>g.append('circle').attr('cx',x(i)).attr('cy',y(v)).attr('r',i===2?4.3:4.6)
      .attr('fill',colors[i]).attr('stroke','#333').attr('stroke-width',0.8)));
    p.sig.forEach(s=>{
      const x0=x(s[0]),x1=x(s[1]),yy=y(s[2]);
      const col=s[4]==='bracket'?'#555':(s[4]==='gray'?'#9a9a9a':'#111');
      if(s[4]==='bracket') g.append('path').attr('d',`M${x0},${yy+3.5}V${yy}H${x1}V${yy+3.5}`).attr('fill','none').attr('stroke',col).attr('stroke-width',1);
      else g.append('line').attr('x1',x0-2).attr('x2',x1).attr('y1',yy).attr('y2',yy).attr('stroke',col).attr('stroke-width',1.1);
      txt(g,(x0+x1)/2,yy+1.5,s[3],{size:11,anchor:'middle',fill:'#222'});
    });
  });
  const items=[{cy:642.7,lines:['Memory','BHLHE40 low'],ty:[637.5,651]},{cy:668.3,lines:['Memory','BHLHE40 high'],ty:[667.5,682.5]},{cy:689.3,lines:['Cluster 3','BHLHE40 high'],ty:[693.5,707]}];
  items.forEach((it,i)=>{
    svg.append('line').attr('x1',638).attr('x2',652).attr('y1',it.cy).attr('y2',it.cy).attr('stroke','#333').attr('stroke-width',0.9);
    svg.append('circle').attr('cx',645).attr('cy',it.cy).attr('r',i===2?3.8:4.3).attr('fill',colors[i]).attr('stroke','#333').attr('stroke-width',0.8);
    it.lines.forEach((s,j)=>txt(svg,654,it.ty[j],s,{size:11.5,fill:'#111'}));
  });
})();
</script></body></html>
